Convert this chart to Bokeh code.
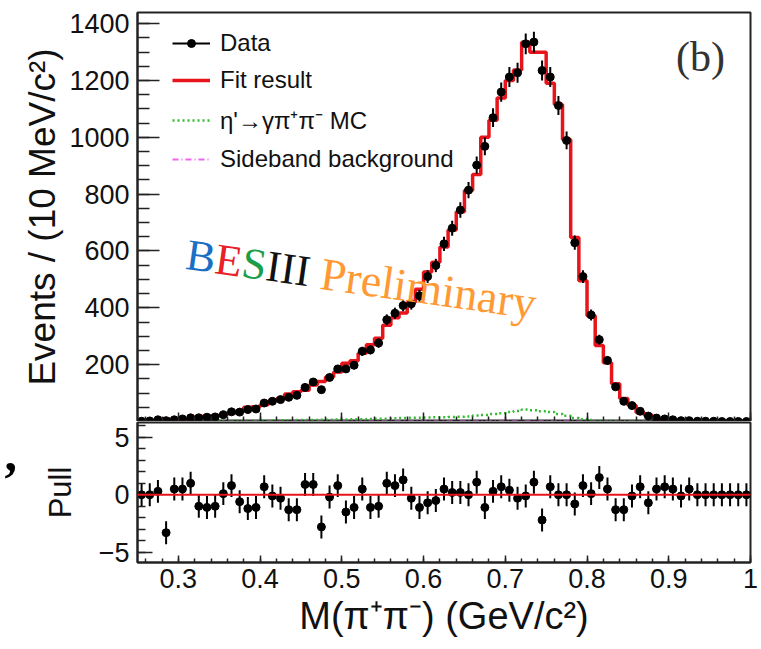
import numpy as np
from bokeh.plotting import figure
from bokeh.layouts import column, row
from bokeh.models import (Range1d, SingleIntervalTicker, Label, Legend, LegendItem, Span,
                          CustomLabelingPolicy)
from bokeh.embed import file_html
from bokeh.resources import INLINE

# ---- binning: 10 MeV bins from 0.25 to 1.0 GeV ----
bin_lo = 0.25
bin_w = 0.01
nbins = 75

# ---- event counts per bin ----
data = [1, 2, 6, 3, 6, 9, 13, 13, 15, 16,
        24, 34, 33, 42, 44, 65, 71, 77, 85, 92,
        120, 139, 112, 155, 185, 185, 198, 247, 252, 276,
        358, 381, 408, 414, 442, 510, 549, 625, 680, 744,
        814, 902, 968, 1069, 1159, 1212, 1227, 1329, 1335, 1235,
        1212, 1112, 989, 629, 510, 375, 288, 215, 122, 71,
        56, 36, 19, 12, 9, 6, 3, 3, 1, 1,
        1, 0, 0, 0, 0]

# ---- fitted histogram ----
fit = [1, 2, 5, 9, 5, 8, 9, 16, 19, 20,
       24, 29, 36, 50, 52, 59, 72, 80, 97, 105,
       110, 128, 141, 157, 174, 205, 214, 240, 270, 293,
       339, 365, 382, 420, 465, 526, 560, 614, 674, 738,
       813, 869, 1000, 1060, 1138, 1200, 1237, 1334, 1299, 1299,
       1190, 1115, 992, 647, 495, 372, 267, 207, 133, 81,
       57, 32, 22, 10, 7, 5, 3, 2, 1, 1,
       0.5, 0.3, 0.2, 0.1, 0.1]

# ---- eta' -> gamma pi+ pi- MC component ----
mc = [0, 0, 0, 1, 1, 1, 1, 1, 2, 2,
      2, 2, 3, 3, 3, 3, 4, 4, 4, 5,
      5, 5, 6, 6, 7, 7, 8, 8, 9, 10,
      10, 11, 12, 13, 13, 14, 15, 15, 16, 17,
      18, 21, 23, 26, 29, 33, 37, 42, 40, 36,
      33, 26, 20, 12, 8, 5, 3, 2, 1, 1,
      1, 0, 0, 0, 0, 0, 0, 0, 0, 0,
      0, 0, 0, 0, 0]

# ---- sideband background ----
sideband = [0, 0, 0, 1, 0, 1, 1, 1, 1, 1,
            1, 1, 1, 1, 2, 1, 2, 1, 2, 2,
            2, 2, 2, 1, 2, 2, 2, 2, 2, 2,
            2, 2, 2, 2, 2, 2, 2, 2, 2, 2,
            2, 2, 2, 2, 2, 2, 2, 2, 2, 2,
            2, 2, 2, 1, 1, 1, 1, 1, 1, 1,
            1, 1, 1, 1, 1, 1, 1, 1, 1, 1,
            1, 1, 1, 1, 1]

# ---- pulls ----
pull = [0.0, 0.0, 0.3, -3.3, 0.5, 0.5, 1.0, -1.0, -1.1, -1.0,
        0.1, 0.8, -0.6, -1.2, -1.1, 0.7, -0.1, -0.3, -1.3, -1.3,
        0.9, 0.9, -2.8, -0.2, 0.8, -1.5, -1.1, 0.5, -1.1, -1.0,
        1.0, 0.8, 1.3, -0.3, -1.1, -0.7, -0.5, 0.5, 0.2, 0.2,
        0.0, 1.1, -1.1, 0.3, 0.7, 0.4, -0.3, -0.1, 1.1, -2.2,
        0.7, 0.0, 0.0, -0.8, 0.8, 0.1, 1.5, 0.5, -1.3, -1.3,
        -0.1, 0.7, -0.7, 0.5, 0.7, 0.5, -0.1, 0.5, 0.0, 0.0,
        0.0, 0.0, 0.0, 0.0, 0.0]

edges = bin_lo + bin_w * np.arange(nbins + 1)
centers = edges[:-1] + bin_w / 2
data_a = np.array(data, dtype=float)
err = np.sqrt(data_a)
pull_a = np.array(pull)


def step_y(vals):
    return list(vals) + [vals[-1]]


FONT = "Liberation Sans"
SERIF = "Liberation Serif"
STRIP = 19              # narrow margin strip on the far left
W = 761 - STRIP
LEFT = 137 - STRIP
X_RANGE = Range1d(0.25, 1.0)
Y_TOP = 1439


def style_common(p):
    p.background_fill_color = "white"
    p.border_fill_color = "white"
    p.outline_line_color = "#222222"
    p.outline_line_width = 2
    p.xgrid.visible = False
    p.ygrid.visible = False
    for ax in (p.xaxis[0], p.yaxis[0]):
        ax.axis_line_color = "#222222"
        ax.axis_line_width = 2
        ax.major_tick_line_color = "#222222"
        ax.minor_tick_line_color = "#222222"
        ax.major_tick_line_width = 1.5
        ax.minor_tick_line_width = 1.5
        ax.major_tick_out = 0
        ax.minor_tick_out = 0
        ax.major_label_text_font = FONT
        ax.major_label_text_font_size = "27px"
        ax.major_label_text_color = "#111111"
        ax.axis_label_text_font = FONT
        ax.axis_label_text_font_style = "normal"
        ax.axis_label_text_color = "#111111"


# ================= main panel =================
p1 = figure(width=W, height=421, x_range=X_RANGE, y_range=Range1d(0, Y_TOP),
            output_backend="svg", toolbar_location=None,
            min_border_left=LEFT, min_border_right=11,
            min_border_top=12, min_border_bottom=0)
style_common(p1)

p1.yaxis.ticker = SingleIntervalTicker(interval=200, num_minor_ticks=4)
p1.yaxis.major_label_overrides = {0: ""}
p1.yaxis.major_tick_in = 22
p1.yaxis.minor_tick_in = 12
p1.yaxis.major_label_standoff = 8
p1.yaxis.axis_label = "Events / (10 MeV/c²)"
p1.yaxis.axis_label_text_font_size = "37px"
p1.yaxis.axis_label_standoff = 3

# ticks only along the shared mass axis of the upper panel
p1.xaxis.ticker = SingleIntervalTicker(interval=0.1, num_minor_ticks=5)
p1.xaxis.major_tick_in = 9
p1.xaxis.minor_tick_in = 5
p1.xaxis.major_label_standoff = 0
p1.xaxis.major_label_text_font_size = "0px"
p1.xaxis.major_label_policy = CustomLabelingPolicy(code="return new Set()")

sb_r = p1.step(list(edges), step_y(sideband), mode="after",
               line_color="#ee66ee", line_width=2, line_dash="6 3 1 3")
mc_r = p1.step(list(edges), step_y(mc), mode="after",
               line_color="#33bb33", line_width=2.5, line_dash="2 3")
fit_r = p1.step(list(edges), step_y(fit), mode="after",
                line_color="#e8141c", line_width=3.5)
err_r = p1.segment(x0=centers, y0=data_a - err, x1=centers, y1=data_a + err,
                   line_color="black", line_width=2)
pts_r = p1.scatter(centers, data_a, size=8, color="black")

legend = Legend(items=[
    LegendItem(label="Data", renderers=[err_r, pts_r]),
    LegendItem(label="Fit result", renderers=[fit_r]),
    LegendItem(label="η'→γπ⁺π⁻ MC", renderers=[mc_r]),
    LegendItem(label="Sideband background", renderers=[sb_r]),
], location=(35, 248), margin=0, padding=0,
    border_line_color=None, background_fill_alpha=0,
    label_text_font=FONT, label_text_font_size="24px", label_text_color="#111111",
    glyph_width=38, glyph_height=20, label_standoff=10, spacing=9)
p1.add_layout(legend)


def px_to_data(sx, sy):
    # main-panel frame: x 137..750 px, y 421 (bottom) .. 12 (top)
    return 0.25 + (sx - 137) / 613 * 0.75, (421 - sy) / 409 * Y_TOP


# panel tag
tx, ty = px_to_data(700, 56)
p1.add_layout(Label(x=tx, y=ty, text="(b)", text_font=SERIF, text_font_size="42px",
                    text_color="#333333", text_align="center", text_baseline="middle"))

# BESIII Preliminary stamp, letters along a slightly tilted baseline
ang = np.deg2rad(8.0)
parts = [("B", "#1a6fc4", 0.667, 44), ("E", "#e8202a", 0.611, 44),
         ("S", "#1a9e4a", 0.556, 44), ("III", "#111111", 1.0, 44),
         (" ", None, 0.25, 44), ("Preliminary", "#ff9933", 0.0, 46)]
d = 0.0
x0, y0 = 186, 254
for txt, col, adv, fs in parts:
    if col is not None:
        sx = x0 + d * np.cos(ang)
        sy = y0 + d * np.sin(ang)
        lx, ly = px_to_data(sx, sy)
        p1.add_layout(Label(x=lx, y=ly, text=txt, text_font=SERIF,
                            text_font_size=f"{fs}px", text_color=col,
                            text_align="left", text_baseline="alphabetic",
                            angle=-ang))
    d += adv * fs

# ================= pull panel =================
p2 = figure(width=W, height=228, x_range=X_RANGE, y_range=Range1d(-5.9, 6.3),
            output_backend="svg", toolbar_location=None,
            min_border_left=LEFT, min_border_right=11,
            min_border_top=1, min_border_bottom=87)
style_common(p2)

p2.yaxis.ticker = SingleIntervalTicker(interval=5, num_minor_ticks=5)
p2.yaxis.major_label_overrides = {-5: "−5"}
p2.yaxis.major_tick_in = 15
p2.yaxis.minor_tick_in = 8
p2.yaxis.major_label_standoff = 8
p2.yaxis.axis_label = "Pull"
p2.yaxis.axis_label_text_font_size = "31px"
p2.yaxis.axis_label_standoff = 18

p2.xaxis.ticker = SingleIntervalTicker(interval=0.1, num_minor_ticks=5)
p2.xaxis.major_label_overrides = {1: "1"}
p2.xaxis.major_tick_in = 7
p2.xaxis.minor_tick_in = 4
p2.xaxis.major_label_standoff = 6
p2.xaxis.axis_label = "M(π⁺π⁻) (GeV/c²)"
p2.xaxis.axis_label_text_font_size = "38px"
p2.xaxis.axis_label_standoff = 4

p2.add_layout(Span(location=0, dimension="width", line_color="#e8141c", line_width=2))
p2.segment(x0=centers, y0=pull_a - 1, x1=centers, y1=pull_a + 1,
           line_color="black", line_width=2)
p2.scatter(centers, pull_a, size=8, color="black")

# ================= left margin strip with stray punctuation =================
strip = figure(width=STRIP, height=649, x_range=Range1d(0, STRIP), y_range=Range1d(649, 0),
               output_backend="svg", toolbar_location=None,
               x_axis_location=None, y_axis_location=None,
               min_border_left=0, min_border_right=0, min_border_top=0, min_border_bottom=0)
strip.outline_line_color = None
strip.xgrid.visible = False
strip.ygrid.visible = False
strip.background_fill_color = "white"
strip.border_fill_color = "white"
strip.add_layout(Label(x=4, y=453, text=",", text_font=SERIF, text_font_style="bold",
                       text_font_size="50px", text_color="black",
                       text_align="left", text_baseline="alphabetic"))

layout = row(strip, column(p1, p2, spacing=0), spacing=0)
open("out.html", "w").write(file_html(layout, INLINE))
